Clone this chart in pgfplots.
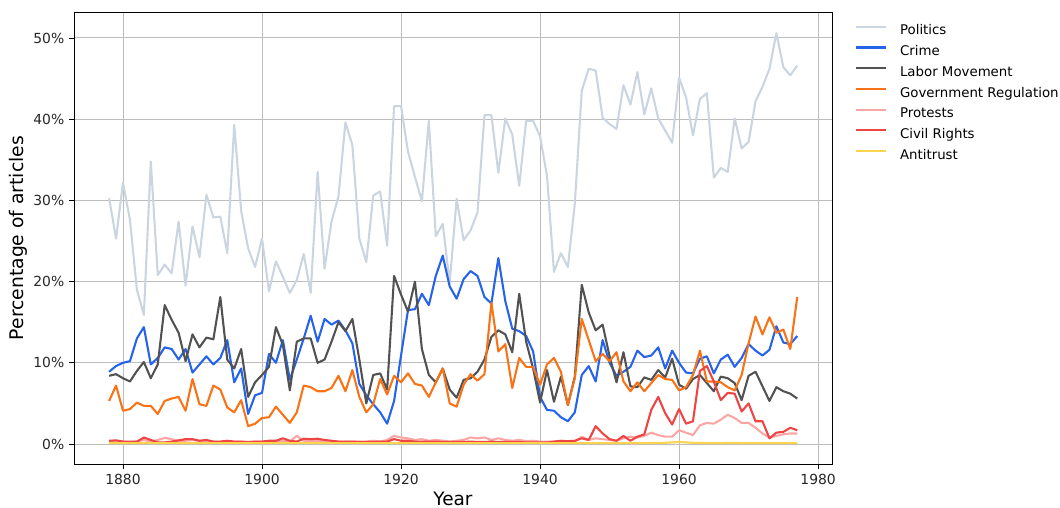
\documentclass[border=0pt]{standalone}
\usepackage{pgfplots}
\pgfplotsset{compat=1.18}
\usepackage{pgfplotstable}
\usepackage{fontspec}
\setmainfont{DejaVu Sans}
\definecolor{cpol}{HTML}{CBD5E1}
\definecolor{ccrime}{HTML}{2563EB}
\definecolor{clabor}{HTML}{525252}
\definecolor{cgov}{HTML}{F97316}
\definecolor{cprot}{HTML}{FCA5A5}
\definecolor{cciv}{HTML}{EF4444}
\definecolor{canti}{HTML}{FCD34D}
\definecolor{gridgray}{HTML}{BDBDBD}

\pgfplotstableread{
year pol crime labor gov prot civ anti
1878 30.3 8.9 8.4 5.3 0.3 0.4 0.1
1879 25.3 9.6 8.6 7.2 0.4 0.45 0.1
1880 32.2 10.0 8.1 4.1 0.3 0.3 0.1
1881 27.6 10.2 7.7 4.3 0.25 0.3 0.1
1882 19.0 13.0 9.0 5.1 0.3 0.3 0.1
1883 15.9 14.4 10.1 4.7 0.5 0.8 0.1
1884 34.8 9.8 8.1 4.7 0.3 0.5 0.1
1885 20.8 10.6 9.8 3.7 0.5 0.2 0.1
1886 22.1 11.9 17.1 5.3 0.75 0.2 0.1
1887 21.0 11.7 15.3 5.6 0.6 0.3 0.1
1888 27.4 10.4 13.7 5.8 0.35 0.45 0.1
1889 19.5 11.7 10.2 4.1 0.4 0.6 0.1
1890 26.8 8.8 13.5 8.0 0.5 0.6 0.1
1891 23.0 9.8 11.9 4.9 0.4 0.4 0.1
1892 30.7 10.8 13.1 4.7 0.3 0.5 0.1
1893 27.9 9.8 12.9 7.2 0.3 0.3 0.1
1894 28.0 10.6 18.1 6.7 0.25 0.3 0.1
1895 23.5 12.8 10.4 4.5 0.3 0.4 0.1
1896 39.3 7.6 9.3 3.9 0.3 0.3 0.1
1897 28.7 9.3 11.7 5.4 0.3 0.3 0.1
1898 24.1 3.7 5.8 2.2 0.3 0.2 0.1
1899 21.8 6.0 7.6 2.5 0.3 0.3 0.1
1900 25.3 6.3 8.5 3.2 0.3 0.3 0.1
1901 18.8 11.1 9.5 3.3 0.3 0.4 0.1
1902 22.5 10.0 14.4 4.6 0.3 0.4 0.1
1903 20.6 12.8 12.2 3.6 0.4 0.7 0.1
1904 18.6 7.9 6.6 2.6 0.3 0.4 0.1
1905 20.2 10.4 12.6 3.9 1.0 0.3 0.1
1906 23.4 13.0 13.0 7.2 0.4 0.65 0.1
1907 18.6 15.8 13.0 7.0 0.4 0.6 0.1
1908 33.5 12.6 10.0 6.5 0.4 0.65 0.1
1909 21.6 15.4 10.4 6.5 0.3 0.5 0.1
1910 27.4 14.7 12.6 6.9 0.3 0.4 0.1
1911 30.5 15.2 15.0 8.4 0.3 0.3 0.1
1912 39.6 14.0 13.9 6.5 0.3 0.3 0.1
1913 36.8 12.4 15.4 9.1 0.3 0.3 0.1
1914 25.3 7.4 10.4 5.8 0.3 0.25 0.1
1915 22.4 6.0 5.0 3.9 0.3 0.25 0.1
1916 30.6 4.9 8.5 4.9 0.4 0.25 0.1
1917 31.1 3.9 8.7 8.0 0.3 0.3 0.1
1918 24.4 2.5 6.7 6.1 0.5 0.3 0.1
1919 41.6 5.3 20.7 8.4 1.0 0.6 0.1
1920 41.6 10.9 18.4 7.6 0.8 0.4 0.1
1921 36.0 16.5 16.3 8.7 0.7 0.4 0.1
1922 32.9 16.6 20.0 7.4 0.5 0.3 0.1
1923 29.9 18.5 11.7 7.2 0.6 0.3 0.1
1924 39.8 17.1 8.5 5.8 0.4 0.3 0.1
1925 25.6 20.7 7.6 7.6 0.5 0.3 0.1
1926 27.1 23.2 9.3 9.3 0.4 0.25 0.1
1927 19.8 19.4 6.7 5.0 0.3 0.25 0.1
1928 30.2 17.9 5.7 4.6 0.4 0.25 0.1
1929 25.1 20.3 7.9 7.3 0.5 0.25 0.1
1930 26.3 21.3 8.1 8.6 0.8 0.3 0.1
1931 28.5 20.7 8.9 7.8 0.7 0.25 0.1
1932 40.5 18.1 10.4 8.6 0.8 0.25 0.1
1933 40.5 17.3 13.2 17.4 0.5 0.3 0.1
1934 33.4 22.9 14.0 11.4 0.7 0.25 0.1
1935 40.1 17.6 13.5 12.3 0.5 0.25 0.1
1936 38.1 14.2 11.3 6.9 0.4 0.25 0.1
1937 31.8 13.9 18.5 10.6 0.5 0.25 0.1
1938 39.8 13.3 12.6 9.5 0.35 0.2 0.1
1939 39.8 11.4 9.3 9.5 0.4 0.2 0.1
1940 37.9 5.8 5.1 7.3 0.3 0.2 0.1
1941 33.0 4.2 9.1 9.8 0.3 0.2 0.1
1942 21.2 4.1 5.2 10.6 0.3 0.3 0.1
1943 23.5 3.3 8.3 8.9 0.3 0.4 0.1
1944 21.8 2.8 4.8 4.8 0.3 0.35 0.1
1945 29.6 3.9 8.3 8.1 0.3 0.4 0.1
1946 43.5 8.5 19.6 15.4 0.9 0.7 0.1
1947 46.2 9.6 16.2 12.8 0.5 0.5 0.1
1948 46.0 7.7 14.0 10.2 0.7 2.2 0.1
1949 40.2 12.8 14.7 11.1 0.6 1.3 0.1
1950 39.4 10.0 10.8 10.2 0.5 0.6 0.1
1951 38.8 8.4 7.6 11.3 0.4 0.4 0.1
1952 44.2 8.9 11.3 7.7 0.7 1.0 0.1
1953 41.8 9.5 7.1 6.5 0.9 0.4 0.1
1954 45.8 11.5 7.0 7.6 0.8 0.9 0.1
1955 40.6 10.7 8.2 6.5 1.0 1.2 0.1
1956 43.8 10.9 7.9 7.5 1.4 4.2 0.15
1957 40.1 11.9 9.1 8.5 1.1 5.8 0.15
1958 38.6 9.3 8.2 8.0 0.9 3.8 0.15
1959 37.1 11.5 10.5 7.9 0.9 2.4 0.2
1960 45.1 10.0 7.3 6.6 1.7 4.3 0.25
1961 42.7 8.8 6.8 7.0 1.4 2.5 0.2
1962 38.0 8.7 8.0 8.5 1.1 2.8 0.15
1963 42.5 10.5 8.5 11.5 2.3 9.0 0.15
1964 43.2 10.8 7.5 7.7 2.6 9.6 0.1
1965 32.8 8.7 6.5 7.7 2.5 7.7 0.1
1966 34.0 10.4 8.3 7.6 3.0 5.4 0.1
1967 33.5 11.0 8.1 7.0 3.6 6.3 0.15
1968 40.1 9.5 7.5 6.6 3.2 6.2 0.15
1969 36.4 10.6 5.4 8.5 2.6 4.0 0.1
1970 37.2 12.3 8.4 12.4 2.6 5.0 0.1
1971 42.2 11.5 8.9 15.7 2.0 2.8 0.1
1972 44.0 10.9 7.1 13.5 1.3 2.8 0.1
1973 46.2 11.6 5.3 15.6 0.8 0.7 0.1
1974 50.6 14.5 7.0 13.7 1.0 1.4 0.1
1975 46.4 12.5 6.5 14.1 1.2 1.5 0.1
1976 45.4 12.3 6.2 11.7 1.3 2.0 0.1
1977 46.6 13.3 5.6 18.1 1.3 1.7 0.1
}\data

\begin{document}
\begin{tikzpicture}
\path[use as bounding box] (-53.28pt,-31.68pt) rectangle (709.92pt,334.08pt);
\begin{axis}[
  at={(0pt,0pt)}, anchor=south west,
  scale only axis, width=545.76pt, height=325.44pt,
  xmin=1872.95, xmax=1982.0, ymin=-2.46, ymax=53.2,
  xtick={1880,1900,1920,1940,1960,1980},
  ytick={0,10,20,30,40,50},
  yticklabel={\pgfmathprintnumber{\tick}\%},
  /pgf/number format/assume math mode=true,
  x tick label style={/pgf/number format/1000 sep={}},
  tick label style={font=\fontsize{10}{12}\selectfont, text=black!85},
  grid=major,
  major grid style={color=gridgray, line width=0.7pt},
  tick align=outside, tick pos=left,
  major tick length=3.5pt,
  tick style={black, line width=0.6pt},
  axis line style={black, line width=0.6pt},
  every axis x label/.style={at={(axis description cs:0.5,0)}, yshift=-25pt, anchor=center, font=\fontsize{13.3}{15}\selectfont},
  every axis y label/.style={at={(axis description cs:0,0.5)}, xshift=-40.3pt, rotate=90, anchor=center, font=\fontsize{13.5}{15}\selectfont},
  xlabel={Year},
  ylabel={Percentage of articles},
  legend style={at={(1,1)}, anchor=north west, xshift=16.6pt, yshift=-9.06pt,
    draw=none, fill=none, inner sep=0pt, outer sep=0pt, row sep=4.9pt,
    font=\fontsize{9.6}{11.5}\selectfont,
    nodes={inner sep=0pt, text height=7.5pt, text depth=2.5pt}},
  legend cell align=left,
  legend image code/.code={\draw[#1, line width=1.5pt] (0pt,3.4pt) -- (21.6pt,3.4pt); \path (30.9pt,3.4pt);},
  every axis plot/.append style={line width=1.5pt, line join=round},
]
\addplot[cpol, no markers] table[x=year,y=pol] {\data};
\addlegendentry{Politics}
\addplot[ccrime, no markers] table[x=year,y=crime] {\data};
\addlegendentry{Crime}
\addplot[clabor, no markers] table[x=year,y=labor] {\data};
\addlegendentry{Labor Movement}
\addplot[cgov, no markers] table[x=year,y=gov] {\data};
\addlegendentry{Government Regulation}
\addplot[cprot, no markers] table[x=year,y=prot] {\data};
\addlegendentry{Protests}
\addplot[cciv, no markers] table[x=year,y=civ] {\data};
\addlegendentry{Civil Rights}
\addplot[canti, no markers] table[x=year,y=anti] {\data};
\addlegendentry{Antitrust}
\end{axis}
\end{tikzpicture}
\end{document}
